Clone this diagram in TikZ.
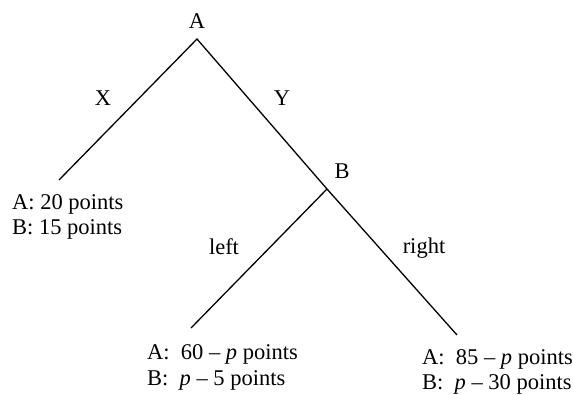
\documentclass[tikz,border=0pt]{standalone}
\usepackage{fontspec}
\setmainfont{Liberation Serif}
\begin{document}
\begin{tikzpicture}[x=1pt,y=-1pt,
  lbl/.style={inner sep=0pt,font=\fontsize{22.5}{25.5}\selectfont},
  pay/.style={inner sep=0pt,anchor=base west,font=\fontsize{22.5}{25.5}\selectfont},
  edge/.style={line width=1.3pt}]
\useasboundingbox (0,0) rectangle (573,394);
\coordinate (top) at (197,39);
\coordinate (lend) at (59,180);
\coordinate (bv) at (327,189);
\coordinate (llend) at (191,328);
\coordinate (rend) at (457,335);
\draw[edge] (lend) -- (top) -- (bv) -- (rend);
\draw[edge] (bv) -- (llend);
\node[lbl] (la) at (197,21) {A};
\node[lbl] (lb) at (342,171) {B};
\node[lbl] (lx) at (103,98) {X};
\node[lbl] (ly) at (282,98) {Y};
\node[lbl] (ll) at (224,247) {left};
\node[lbl] (lr) at (424,248) {right};
\node[pay] (p1a) at (12,209) {A: 20 points};
\node[pay] (p1b) at (12,234.5) {B: 15 points};
\node[pay] (p2a) at (147,359) {A:\ \ 60 – \textit{p} points};
\node[pay] (p2b) at (147,385) {B:\ \ \textit{p} – 5 points};
\node[pay] (p3a) at (422,364) {A:\ \ 85 – \textit{p} points};
\node[pay] (p3b) at (422,389.5) {B:\ \ \textit{p} – 30 points};
\end{tikzpicture}
\end{document}
